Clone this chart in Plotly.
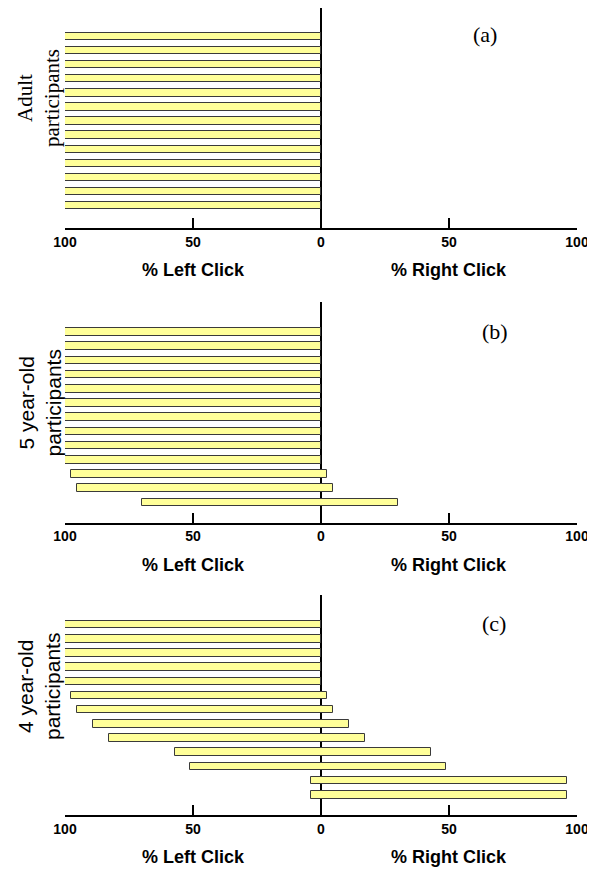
import plotly.graph_objects as go

participants = list(range(1, 14))

adult_left = [100]*13
adult_right = [0]*13

five_left = [100]*10 + [97.5, 95.5, 70]
five_right = [0]*10 + [2.5, 4.5, 30]

four_left = [100, 100, 100, 100, 100, 97.5, 95.5, 89, 83, 57, 51, 4, 4]
four_right = [0, 0, 0, 0, 0, 2.5, 4.5, 11, 17, 43, 49, 96, 96]

tick_vals = [-100, -50, 0, 50, 100]
tick_text = ["100", "50", "0", "50", "100"]

panel_labels = ["(a)", "(b)", "(c)"]
group_titles = ["Adult<br>participants", "5 year-old<br>participants", "4 year-old<br>participants"]
x_titles = ["% Left Click", "% Right Click"]

W, H = 595, 869
OFF = 8  # page offset of the figure
# pixel geometry in page coords: (top, bottom axis line)
panels = [(8, 228), (302, 522.5), (595, 815)]
bar_first_center = [36.4, 332.0, 624.7]
bar_spacing = [14.11, 14.2, 14.17]
label_pos = [(485, 35), (495, 331.7), (494, 623)]
group_pos_y = [98, 403.5, 687]

data = [(adult_left, adult_right), (five_left, five_right), (four_left, four_right)]


def px(x):
    return min(1.0, max(0.0, (x - OFF) / W))


def py(y):
    return min(1.0, max(0.0, 1 - (y - OFF) / H))


fig = go.Figure()
x0p, x1p = px(65), px(577)

for i, ((left, right), (top, bot)) in enumerate(zip(data, panels)):
    n = "" if i == 0 else str(i + 1)
    xa, ya = "x" + n, "y" + n
    fig.add_trace(go.Bar(
        y=participants,
        x=[l + r for l, r in zip(left, right)],
        base=[-l for l in left],
        orientation="h",
        width=0.53,
        marker=dict(color="#FFFF99", line=dict(color="#3a3a3a", width=1)),
        xaxis=xa, yaxis=ya, showlegend=False,
    ))
    c0, sp = bar_first_center[i], bar_spacing[i]
    r_top = 1 + (top - c0) / sp
    r_bot = 1 + (bot - c0) / sp
    xkey = "xaxis" + n
    ykey = "yaxis" + n
    fig.layout[xkey] = dict(
        domain=[x0p, x1p], anchor=ya, range=[-100, 100],
        tickvals=tick_vals, ticktext=tick_text,
        ticks="inside", ticklen=10, tickwidth=2, tickcolor="black",
        showline=True, linecolor="black", linewidth=2,
        showgrid=False, zeroline=True, zerolinecolor="black", zerolinewidth=2,
        tickfont=dict(family="Liberation Sans, Arial", size=14, color="black", weight="bold"),
        fixedrange=True, automargin=False,
    )
    fig.layout[ykey] = dict(
        domain=[py(bot), py(top)], anchor=xa,
        range=[r_bot, r_top], showticklabels=False, showgrid=False,
        zeroline=False, showline=False, ticks="", automargin=False,
        fixedrange=True,
    )
    # x-axis titles
    for xv, t in zip([-50, 50], x_titles):
        fig.add_annotation(
            x=xv, xref=xa, y=py(bot + 42), yref="paper",
            text="<b>" + t + "</b>", showarrow=False,
            font=dict(family="Liberation Sans, Arial", size=18, color="black"),
            xanchor="center", yanchor="middle",
        )
    # panel label
    lx, ly = label_pos[i]
    fig.add_annotation(
        x=px(lx), xref="paper", y=py(ly), yref="paper",
        text=panel_labels[i], showarrow=False,
        font=dict(family="Liberation Serif, Times New Roman", size=22, color="black"),
        xanchor="center", yanchor="middle",
    )
    # group title
    fam = "Liberation Serif, Times New Roman" if i == 0 else "Liberation Sans, Arial"
    fig.add_annotation(
        x=px(39), xref="paper", y=py(group_pos_y[i]), yref="paper",
        text=group_titles[i], showarrow=False, textangle=-90,
        font=dict(family=fam, size=21, color="black"),
        xanchor="center", yanchor="middle",
    )

fig.update_layout(
    template="none",
    width=W, height=H,
    margin=dict(l=0, r=0, t=0, b=0, pad=0),
    paper_bgcolor="white", plot_bgcolor="white",
    barmode="overlay", bargap=0,
)

fig.write_html("out.html")
